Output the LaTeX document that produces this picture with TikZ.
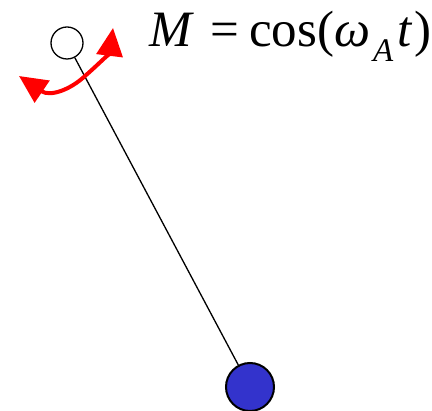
\documentclass[tikz,border=0pt]{standalone}
\usepackage{fontspec}
\setmainfont{Liberation Serif}
\usetikzlibrary{arrows.meta}
\definecolor{bobblue}{RGB}{51,51,204}
\begin{document}
\begin{tikzpicture}[x=1pt, y=-1pt, line width=1.3pt]
	\useasboundingbox (0,0) rectangle (432,411);
	\node[circle, draw, fill=white, minimum size=32pt, inner sep=0pt] (pivot) at (67,43) {};
	\node[circle, draw, line width=2pt, fill=bobblue, minimum size=48pt, inner sep=0pt] (bob) at (250,387) {};
	\draw (pivot) -- (bob);
	\coordinate (left) at (19,76);
	\coordinate (right) at (113,28);
	\draw[red, line width=4pt, {Triangle[length=28pt, width=26pt]}-{Triangle[length=28pt, width=26pt]}] (left) .. controls (50,97) and (70,90) .. (85,76) .. controls (100,63) and (110,52) .. (right);
	\node[anchor=base west, inner sep=0pt, font=\fontsize{51}{51}\selectfont] (eq) at (149,47) {\textit{M}\hspace{16pt}=\hspace{10pt}cos(\textit{ω}\hspace{3pt}\raisebox{-15pt}{\fontsize{33}{33}\selectfont\textit{A}}\hspace{4pt}\textit{t}\hspace{2pt})};
\end{tikzpicture}
\end{document}
